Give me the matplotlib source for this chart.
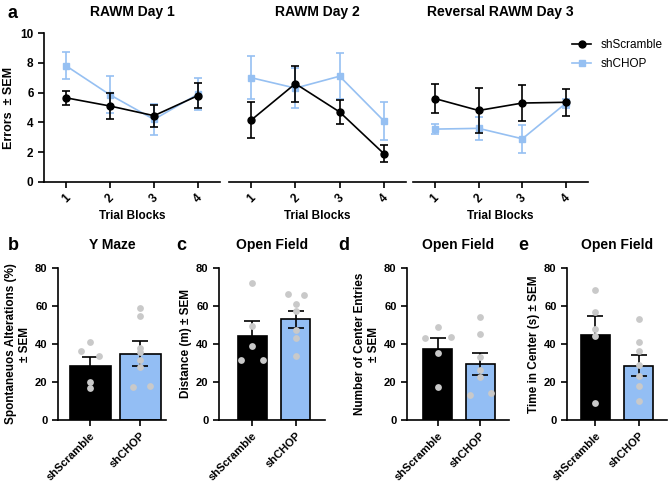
import numpy as np
import matplotlib
matplotlib.use("Agg")
import matplotlib.pyplot as plt
from matplotlib.lines import Line2D

plt.rcParams['font.family'] = ['Liberation Sans', 'DejaVu Sans']
plt.rcParams['font.weight'] = 'bold'
plt.rcParams['axes.labelweight'] = 'bold'
plt.rcParams['axes.titleweight'] = 'bold'

BLUE_LINE = '#96C0F2'
BLUE_BAR = '#93BEF4'
GRAY = '#C9C9C9'

# RAWM data (errors +- SEM)
blocks = [1, 2, 3, 4]
day_titles = ['RAWM Day 1', 'RAWM Day 2', 'Reversal RAWM Day 3']
scr_mean = [[5.65, 5.1, 4.45, 5.8], [4.15, 6.6, 4.7, 1.9], [5.6, 4.8, 5.3, 5.35]]
scr_sem = [[0.48, 0.9, 0.75, 0.85], [1.2, 1.2, 0.8, 0.55], [1.0, 1.5, 1.2, 0.9]]
chop_mean = [[7.8, 5.85, 4.2, 5.9], [7.0, 6.3, 7.1, 4.1], [3.55, 3.6, 2.9, 5.3]]
chop_sem = [[0.92, 1.25, 1.05, 1.1], [1.45, 1.35, 1.55, 1.27], [0.35, 0.77, 0.93, 0.3]]

# behaviour bars
groups = ['shScramble', 'shCHOP']
bar_titles = ['Y Maze', 'Open Field', 'Open Field', 'Open Field']
bar_ylabels = ['Spontaneuos Alterations (%)\n± SEM', 'Distance (m) ± SEM',
               'Number of Center Entries\n± SEM', 'Time in Center (s) ± SEM']
bar_means = [[28.6, 34.9], [44.3, 53.1], [37.4, 29.5], [45.0, 28.6]]
bar_sems = [[4.8, 6.7], [8.0, 4.5], [6.0, 5.9], [10.0, 5.6]]
pts_scr = [[41, 36.5, 33.9, 19.8, 16.8],
           [72.2, 49.7, 38.8, 31.8, 31.8],
           [49.2, 42.9, 43.8, 35.3, 17.2],
           [68.2, 56.8, 48.0, 44.1, 9.0]]
pts_chop = [[59, 55, 38, 35.6, 31.8, 27.7, 17.2, 18.1],
            [66.3, 65.6, 61.3, 57.3, 47.3, 43.1, 33.7],
            [54.3, 45.3, 33.4, 26.5, 22.5, 13.4, 14.2],
            [52.9, 41.1, 36.2, 28.8, 23.0, 17.8, 9.8]]
jit_scr = [[0, -0.18, 0.18, 0, 0], [0, 0, 0, -0.25, 0.25], [0, -0.3, 0.3, 0, 0], [0, 0, 0, 0, 0]]
jit_chop = [[0, 0, 0, 0, 0, 0, -0.15, 0.2], [-0.18, 0.18, 0, 0, 0, 0, 0],
            [0, 0, 0, 0, 0, -0.25, 0.25], [0, 0, 0, 0, 0, 0, 0]]

fig = plt.figure(figsize=(6.69, 4.83), dpi=100)

W, H = 669, 483
def box(x0, x1, ytop, ybot):
    return [x0 / W, 1 - ybot / H, (x1 - x0) / W, (ybot - ytop) / H]

top_x = [(44, 220), (229, 406), (413, 588)]
for i in range(3):
    ax = fig.add_axes(box(*top_x[i], 33, 182))
    ax.errorbar(blocks, scr_mean[i], yerr=scr_sem[i], color='black', marker='o', ms=5,
                lw=1.2, capsize=3, elinewidth=1.2, capthick=1.2, zorder=3)
    ax.errorbar(blocks, chop_mean[i], yerr=chop_sem[i], color=BLUE_LINE, marker='s', ms=5,
                lw=1.2, capsize=3, elinewidth=1.2, capthick=1.2, zorder=2)
    ax.set_xlim(0.5, 4.5)
    ax.set_ylim(0, 10)
    ax.set_xticks(blocks)
    ax.set_xticklabels([str(b) for b in blocks], rotation=45)
    ax.set_xlabel('Trial Blocks', fontsize=8.5, labelpad=3)
    ax.set_title(day_titles[i], fontsize=10, pad=12)
    for s in ['top', 'right']:
        ax.spines[s].set_visible(False)
    for s in ['left', 'bottom']:
        ax.spines[s].set_linewidth(1.2)
    ax.tick_params(width=1.2, length=4, labelsize=8.5)
    if i == 0:
        ax.set_yticks([0, 2, 4, 6, 8, 10])
        ax.set_ylabel('Errors  ± SEM', fontsize=9, labelpad=4)
    else:
        ax.spines['left'].set_visible(False)
        ax.set_yticks([])
    if i == 2:
        handles = [Line2D([], [], color='black', marker='o', ms=5, lw=1.2),
                   Line2D([], [], color=BLUE_LINE, marker='s', ms=5, lw=1.2)]
        ax.legend(handles, groups, loc='upper left', bbox_to_anchor=(0.85, 1.03), frameon=False,
                  prop={'weight': 'normal', 'size': 8.5}, handlelength=1.6,
                  handletextpad=0.8, labelspacing=0.55)

bot_x = [(58, 166), (219, 325), (407, 509), (567, 667)]
xlims = [(-0.64, 1.52), (-0.76, 1.67), (-0.72, 1.67), (-0.66, 1.66)]
widths = [0.82, 0.67, 0.67, 0.67]
for i in range(4):
    ax = fig.add_axes(box(*bot_x[i], 268, 420))
    x = np.arange(2)
    ax.bar(x, bar_means[i], width=widths[i], color=['black', BLUE_BAR],
           edgecolor='black', linewidth=1.2, zorder=1)
    ax.errorbar(x, bar_means[i], yerr=bar_sems[i], fmt='none', ecolor='black',
                elinewidth=1.2, capsize=6, capthick=1.2, zorder=2)
    ax.scatter(np.array(jit_scr[i]) + 0, pts_scr[i], s=24, color=GRAY, zorder=3, linewidths=0)
    ax.scatter(np.array(jit_chop[i]) + 1, pts_chop[i], s=24, color=GRAY, zorder=3, linewidths=0)
    ax.set_xlim(*xlims[i])
    ax.set_ylim(0, 80)
    ax.set_yticks([0, 20, 40, 60, 80])
    ax.set_xticks(x)
    ax.set_xticklabels(groups, rotation=45, ha='right', rotation_mode='anchor')
    ax.set_ylabel(bar_ylabels[i], fontsize=8.5, labelpad=3)
    ax.set_title(bar_titles[i], fontsize=10, pad=14)
    for s in ['top', 'right']:
        ax.spines[s].set_visible(False)
    for s in ['left', 'bottom']:
        ax.spines[s].set_linewidth(1.2)
    ax.tick_params(width=1.2, length=4, labelsize=8)

for lab, xp, yp in [('a', 8, 14), ('b', 8, 246), ('c', 176, 246), ('d', 338, 246), ('e', 518, 246)]:
    fig.text(xp / W, 1 - yp / H, lab, fontsize=13, fontweight='bold', va='center', ha='left')

fig.savefig('out.png', dpi=100)
